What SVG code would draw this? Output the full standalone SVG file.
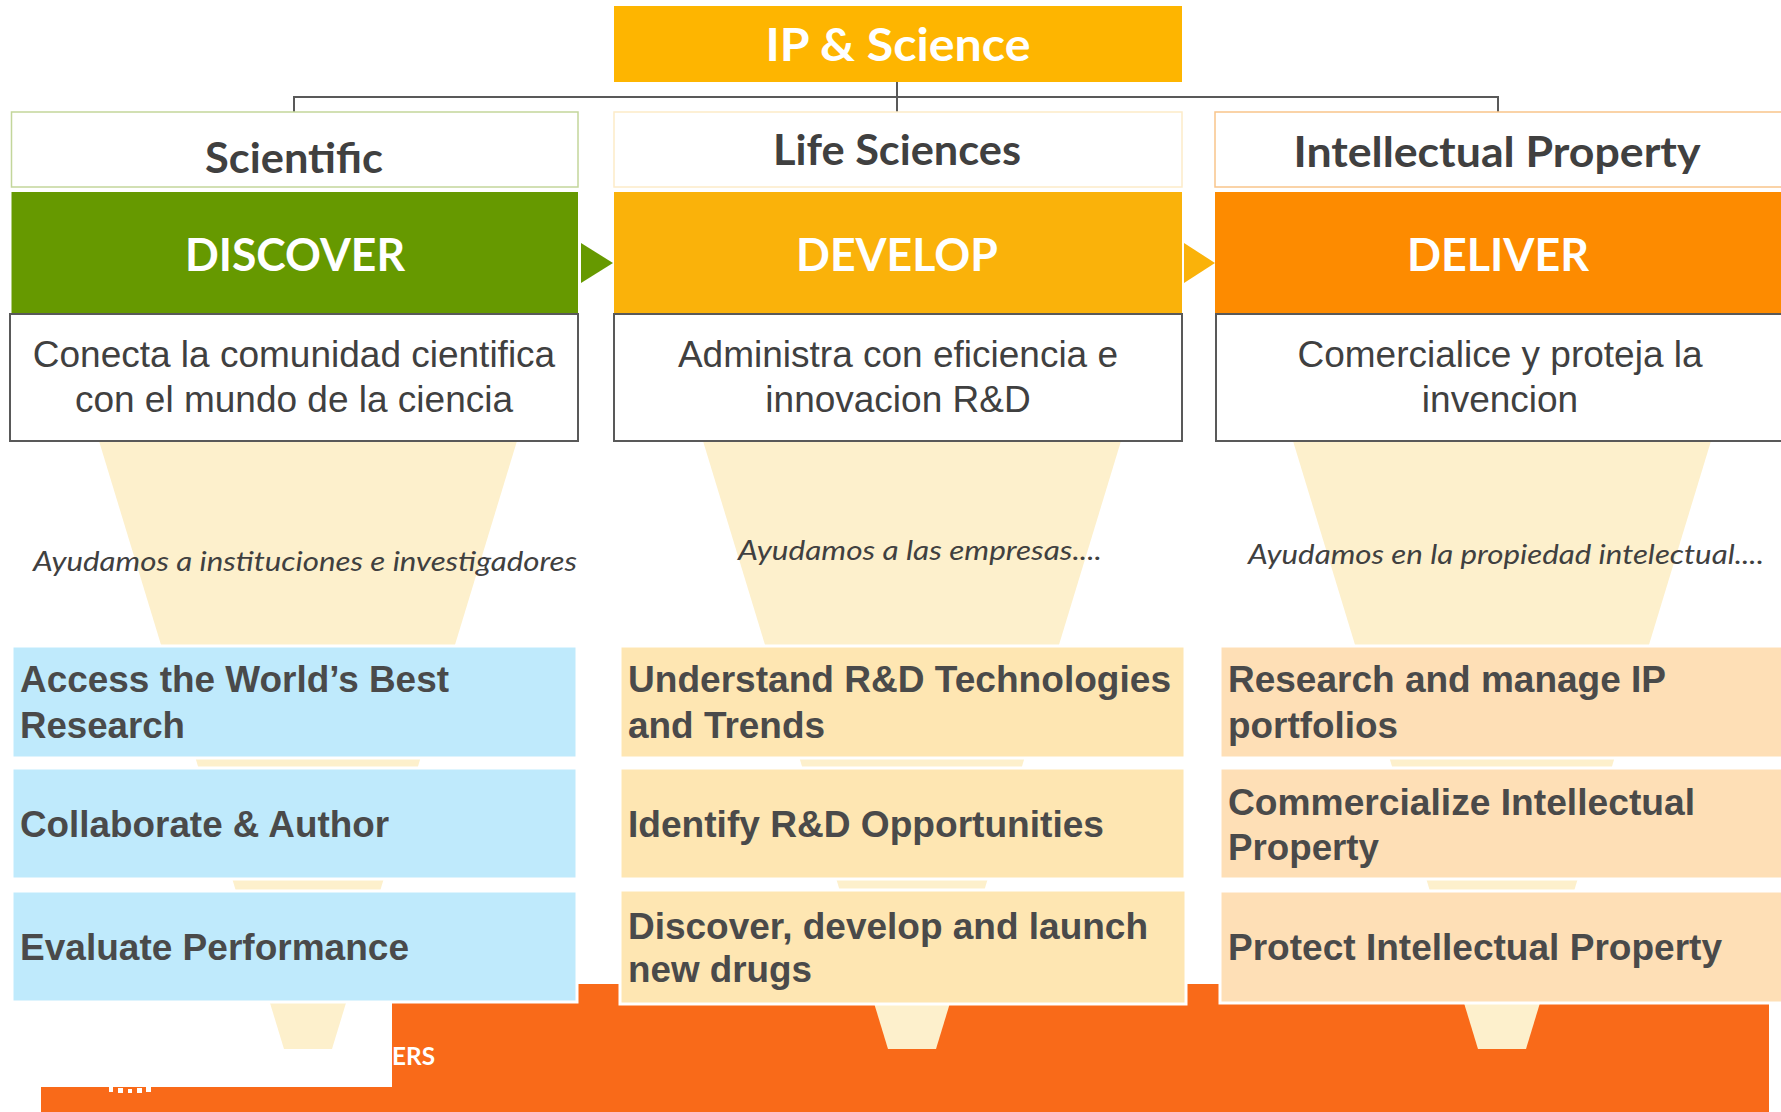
<svg xmlns="http://www.w3.org/2000/svg" width="1781" height="1112" viewBox="0 0 1781 1112">
<style>
.ttl{font-family:Lato,"Open Sans","Liberation Sans",sans-serif;font-weight:700;fill:#404040;text-anchor:middle}
.hdr{font-family:Lato,"Open Sans","Liberation Sans",sans-serif;font-weight:700;fill:#ffffff;text-anchor:middle}
.desc{font-family:"Liberation Sans",Arial,sans-serif;font-size:37px;fill:#404040;text-anchor:middle}
.ital{font-family:Lato,"Open Sans","Liberation Sans",sans-serif;font-style:italic;font-size:27px;fill:#404040}
.feat{font-family:"Liberation Sans",Arial,sans-serif;font-weight:700;font-size:37px;fill:#4a4a4a}
.dbox{fill:#ffffff;stroke:#595959;stroke-width:2}
.funnel{fill:#fdf0cc}
.blue{fill:#bfeafc;stroke:#ffffff;stroke-width:3}
.yel{fill:#fee6b2;stroke:#ffffff;stroke-width:3}
.pch{fill:#fedfb6;stroke:#ffffff;stroke-width:3}
.conn{fill:none;stroke:#595959;stroke-width:2}
</style>

<g id="background">
<rect x="41" y="984" width="1728" height="128" fill="#f96a19"/>
<rect x="0" y="1001" width="392" height="86" fill="#ffffff"/>
<g fill="#ffffff">
<rect x="109" y="1087" width="4" height="5"/>
<rect x="118" y="1088" width="5" height="5"/>
<rect x="128" y="1089" width="4" height="4"/>
<rect x="137" y="1088" width="5" height="5"/>
<rect x="146" y="1087" width="5" height="5"/>
</g>
<text x="392" y="1065" font-family="Lato,'Open Sans','Liberation Sans',sans-serif" font-weight="700" font-size="25" fill="#ffffff" textLength="43" lengthAdjust="spacingAndGlyphs">ERS</text>
</g>

<g id="funnels">
<path class="funnel" d="M99,441 L517,441 L332,1049 L284,1049 Z"/>
<path class="funnel" d="M703,441 L1121,441 L936,1049 L888,1049 Z"/>
<path class="funnel" d="M1293,441 L1711,441 L1526,1049 L1478,1049 Z"/>
</g>

<g id="connectors">
<path class="conn" d="M897,82 V112"/>
<path class="conn" d="M294,112 V97 H1498 V112"/>
<path d="M581,243 L613,263 L581,283 Z" fill="#669900"/>
<path d="M1184,243 L1215,263 L1184,283 Z" fill="#fab20a"/>
</g>

<g id="ip-science">
<rect x="614" y="6" width="568" height="76" fill="#feb500"/>
<text class="hdr" x="898" y="61" font-size="46" textLength="265" lengthAdjust="spacingAndGlyphs">IP &amp; Science</text>
</g>

<g id="scientific">
<rect x="11.5" y="112" width="566.5" height="75" fill="#ffffff" stroke="#c3d69b" stroke-width="1.5"/>
<text class="ttl" x="294" y="173" font-size="42" textLength="178" lengthAdjust="spacingAndGlyphs">Scientific</text>
</g>
<g id="life-sciences">
<rect x="614" y="112" width="568" height="75" fill="#ffffff" stroke="#fdebc8" stroke-width="1.5"/>
<text class="ttl" x="897" y="165" font-size="42" textLength="248" lengthAdjust="spacingAndGlyphs">Life Sciences</text>
</g>
<g id="intellectual-property">
<rect x="1215" y="112" width="580" height="75" fill="#ffffff" stroke="#f9c58a" stroke-width="1.5"/>
<text class="ttl" x="1497" y="167" font-size="42" textLength="407" lengthAdjust="spacingAndGlyphs">Intellectual Property</text>
</g>

<g id="discover">
<rect x="11.5" y="192" width="566.5" height="122" fill="#669900"/>
<text class="hdr" x="295" y="271" font-size="46" textLength="220" lengthAdjust="spacingAndGlyphs">DISCOVER</text>
</g>
<g id="develop">
<rect x="614" y="192" width="568" height="122" fill="#fab20a"/>
<text class="hdr" x="897" y="271" font-size="46" textLength="202" lengthAdjust="spacingAndGlyphs">DEVELOP</text>
</g>
<g id="deliver">
<rect x="1215" y="192" width="580" height="122" fill="#fd8b00"/>
<text class="hdr" x="1498" y="271" font-size="46" textLength="182" lengthAdjust="spacingAndGlyphs">DELIVER</text>
</g>

<g id="desc-discover">
<rect class="dbox" x="10" y="314" width="568" height="127"/>
<text class="desc" x="294" y="367">Conecta la comunidad cientifica</text>
<text class="desc" x="294" y="412">con el mundo de la ciencia</text>
</g>
<g id="desc-develop">
<rect class="dbox" x="614" y="314" width="568" height="127"/>
<text class="desc" x="898" y="367">Administra con eficiencia e</text>
<text class="desc" x="898" y="412">innovacion R&amp;D</text>
</g>
<g id="desc-deliver">
<rect class="dbox" x="1216" y="314" width="580" height="127"/>
<text class="desc" x="1500" y="367">Comercialice y proteja la</text>
<text class="desc" x="1500" y="412">invencion</text>
</g>

<g id="help-texts">
<text class="ital" x="33" y="571" textLength="544" lengthAdjust="spacingAndGlyphs">Ayudamos a instituciones e investigadores</text>
<text class="ital" x="738" y="560" textLength="364" lengthAdjust="spacingAndGlyphs">Ayudamos a las empresas....</text>
<text class="ital" x="1248" y="564" textLength="516" lengthAdjust="spacingAndGlyphs">Ayudamos en la propiedad intelectual....</text>
</g>

<g id="access-research">
<rect class="blue" x="12" y="646" width="565" height="112"/>
<text class="feat" x="20" y="692" textLength="429" lengthAdjust="spacingAndGlyphs">Access the World’s Best</text>
<text class="feat" x="20" y="738" textLength="165" lengthAdjust="spacingAndGlyphs">Research</text>
</g>
<g id="collaborate">
<rect class="blue" x="12" y="768" width="565" height="111"/>
<text class="feat" x="20" y="837" textLength="369" lengthAdjust="spacingAndGlyphs">Collaborate &amp; Author</text>
</g>
<g id="evaluate">
<rect class="blue" x="12" y="891" width="565" height="111"/>
<text class="feat" x="20" y="960" textLength="389" lengthAdjust="spacingAndGlyphs">Evaluate Performance</text>
</g>

<g id="understand">
<rect class="yel" x="620" y="646" width="565" height="112"/>
<text class="feat" x="628" y="692" textLength="543" lengthAdjust="spacingAndGlyphs">Understand R&amp;D Technologies</text>
<text class="feat" x="628" y="738" textLength="197" lengthAdjust="spacingAndGlyphs">and Trends</text>
</g>
<g id="identify">
<rect class="yel" x="620" y="768" width="565" height="111"/>
<text class="feat" x="628" y="837" textLength="476" lengthAdjust="spacingAndGlyphs">Identify R&amp;D Opportunities</text>
</g>
<g id="discover-drugs">
<rect class="yel" x="620" y="890" width="566" height="114"/>
<text class="feat" x="628" y="939" textLength="520" lengthAdjust="spacingAndGlyphs">Discover, develop and launch</text>
<text class="feat" x="628" y="982" textLength="184" lengthAdjust="spacingAndGlyphs">new drugs</text>
</g>

<g id="research-ip">
<rect class="pch" x="1220" y="646" width="580" height="112"/>
<text class="feat" x="1228" y="692" textLength="438" lengthAdjust="spacingAndGlyphs">Research and manage IP</text>
<text class="feat" x="1228" y="738" textLength="170" lengthAdjust="spacingAndGlyphs">portfolios</text>
</g>
<g id="commercialize">
<rect class="pch" x="1220" y="768" width="580" height="111"/>
<text class="feat" x="1228" y="815" textLength="467" lengthAdjust="spacingAndGlyphs">Commercialize Intellectual</text>
<text class="feat" x="1228" y="860" textLength="151" lengthAdjust="spacingAndGlyphs">Property</text>
</g>
<g id="protect">
<rect class="pch" x="1220" y="891" width="580" height="112"/>
<text class="feat" x="1228" y="960" textLength="494" lengthAdjust="spacingAndGlyphs">Protect Intellectual Property</text>
</g>
</svg>
